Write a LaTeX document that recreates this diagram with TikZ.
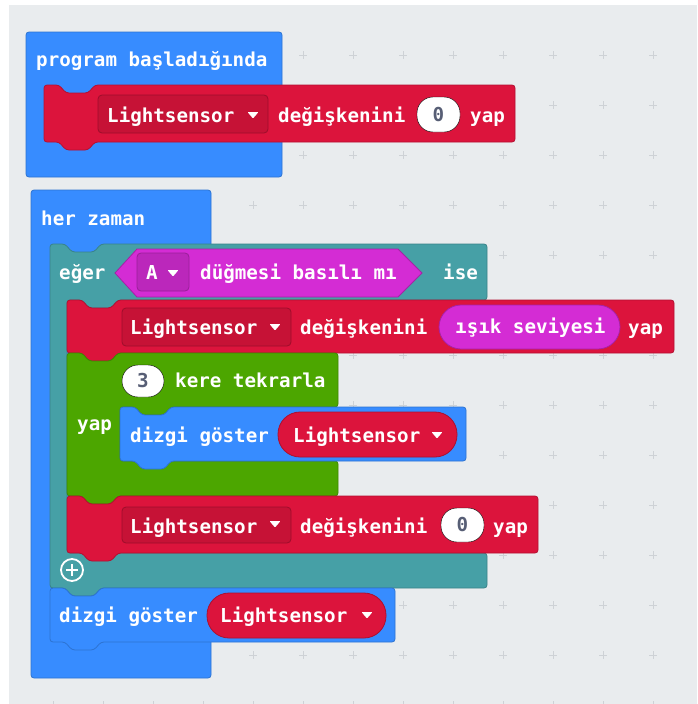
\documentclass[tikz,border=0pt]{standalone}
\usepackage{fontspec}
\newfontfamily\blockfont{DejaVu Sans Mono}
\usetikzlibrary{positioning}

\definecolor{bgGray}{RGB}{233,236,238}
\definecolor{gridGray}{RGB}{206,210,214}
\definecolor{basicBlue}{RGB}{55,140,255}
\definecolor{varRed}{RGB}{220,20,60}
\definecolor{logicTeal}{RGB}{70,160,166}
\definecolor{inputPink}{RGB}{212,44,212}
\definecolor{loopGreen}{RGB}{76,166,0}
\definecolor{numGray}{RGB}{87,94,117}

\newcommand{\bfont}{\blockfont\bfseries\fontsize{19.2}{22}\selectfont}

% statement block outline: left, top, right, bottom
\newcommand{\stmtpath}[4]{(#1,#2) -- ++(15,0) -- ++(7,8) -- ++(22,0) -- ++(7,-8) -- (#3,#2) -- (#3,#4) -- (#1+51,#4) -- ++(-7,8) -- ++(-22,0) -- ++(-7,-8) -- (#1,#4) -- cycle}

\tikzset{
  blk/.style={rounded corners=3pt, line width=0.8pt},
  blue blk/.style={blk, fill=basicBlue, draw=basicBlue!82!black},
  red blk/.style={blk, fill=varRed, draw=varRed!82!black},
  teal blk/.style={blk, fill=logicTeal, draw=logicTeal!82!black},
  green blk/.style={blk, fill=loopGreen, draw=loopGreen!82!black},
  dropbox/.style={rounded corners=4pt, line width=0.8pt, fill=varRed!90!black, draw=varRed!72!black},
  pinkbox/.style={rounded corners=4pt, line width=0.8pt, fill=inputPink!88!black, draw=inputPink!72!black},
  numoval/.style={fill=white, rounded corners=16pt},
  redpill/.style={fill=varRed, draw=varRed!78!black, line width=0.8pt, rounded corners=22pt},
  pinkpill/.style={fill=inputPink, draw=inputPink!78!black, line width=0.8pt, rounded corners=22pt},
  lbl/.style={text=white, font=\bfont, inner sep=0pt, anchor=base west},
  num/.style={text=numGray, font=\bfont, inner sep=0pt, anchor=center},
  gridmark/.style={draw=gridGray, line width=0.9pt},
  ddarrow/.pic={\fill[white, rounded corners=0.8pt] (-5.5,-3) -- (5.5,-3) -- (0,3.5) -- cycle;}
}

\begin{document}
\begin{tikzpicture}[x=1pt, y=-1pt]
    \useasboundingbox (0,0) rectangle (697,704);
    % Workspace
    \fill[white] (0,0) rectangle (697,704);
    \fill[bgGray] (9,5) rectangle (697,704);
    \begin{scope}
      \clip (9,5) rectangle (697,704);
      \foreach \gx in {53,103,...,653}
        \foreach \gy in {55,105,...,705}
          \draw[gridmark] (\gx-4,\gy) -- (\gx+4,\gy) (\gx,\gy-4) -- (\gx,\gy+4);
    \end{scope}

    % program başladığında
    \draw[blue blk] (26,32) rectangle (282,177);
    \draw[red blk] \stmtpath{44}{85}{515}{142};
    \draw[dropbox] (98,95) rectangle (268,133);
    \draw[numoval] (417,97) rectangle (460,132);
    \node[lbl] (start) at (36,66) {program başladığında};
    \node[lbl] (var1) at (107,122) {Lightsensor};
    \pic at (253,115) {ddarrow};
    \node[lbl] (set1) at (278,122) {değişkenini};
    \node[num] (zero1) at (438.5,114.5) {0};
    \node[lbl] (yap1) at (470,122) {yap};

    % her zaman
    \draw[blue blk] (31,190) rectangle (211,678);
    \node[lbl] (forever) at (41,225) {her zaman};

    % eğer ... ise
    \draw[teal blk] (50,244) -- ++(15,0) -- ++(7,8) -- ++(22,0) -- ++(7,-8) -- (487,244) -- (487,300)
      -- (118,300) -- ++(-7,8) -- ++(-22,0) -- ++(-7,-8) -- (67,300) -- (67,553) -- (487,553) -- (487,588)
      -- (101,588) -- ++(-7,8) -- ++(-22,0) -- ++(-7,-8) -- (50,588) -- cycle;
    \draw[fill=inputPink, draw=inputPink!78!black, line width=0.8pt]
      (115,273) -- (137,249) -- (398,249) -- (422,273) -- (398,297) -- (137,297) -- cycle;
    \draw[pinkbox] (137,253) rectangle (189,291);
    \node[lbl] (ifword) at (59,279) {eğer};
    \node[lbl] (btn) at (146,279) {A};
    \pic at (173,273) {ddarrow};
    \node[lbl] (pressed) at (200,279) {düğmesi basılı mı};
    \node[lbl] (then) at (443,279) {ise};
    \draw[white, line width=1.8pt] (72,570) circle (11);
    \draw[white, line width=2.4pt] (66,570) -- (78,570) (72,564) -- (72,576);

    % Lightsensor = ışık seviyesi
    \draw[red blk] \stmtpath{67}{300}{674}{353};
    \draw[dropbox] (122,308) rectangle (291,346);
    \draw[pinkpill] (439,305) rectangle (620,349);
    \node[lbl] (var2) at (130,334) {Lightsensor};
    \pic at (275,327) {ddarrow};
    \node[lbl] (set2) at (300,334) {değişkenini};
    \node[lbl] (light) at (455,333) {ışık seviyesi};
    \node[lbl] (yap2) at (628,334) {yap};

    % 3 kere tekrarla
    \draw[green blk] (67,353) -- ++(15,0) -- ++(7,8) -- ++(22,0) -- ++(7,-8) -- (338,353) -- (338,407)
      -- (171,407) -- ++(-7,8) -- ++(-22,0) -- ++(-7,-8) -- (120,407) -- (120,461) -- (338,461) -- (338,496)
      -- (118,496) -- ++(-7,8) -- ++(-22,0) -- ++(-7,-8) -- (67,496) -- cycle;
    \draw[numoval] (122,365) rectangle (164,397);
    \node[num] (three) at (143,381) {3};
    \node[lbl] (times) at (175,387) {kere tekrarla};
    \node[lbl] (doword) at (77,430) {yap};
    \draw[blue blk] \stmtpath{120}{407}{466}{461};
    \draw[redpill] (278,412) rectangle (457,457);
    \node[lbl] (show1) at (130,442) {dizgi göster};
    \node[lbl] (var3) at (293,442) {Lightsensor};
    \pic at (437,435) {ddarrow};

    % Lightsensor = 0
    \draw[red blk] \stmtpath{67}{496}{538}{553};
    \draw[dropbox] (122,507) rectangle (291,543);
    \draw[numoval] (441,508) rectangle (484,542);
    \node[lbl] (var4) at (130,533) {Lightsensor};
    \pic at (275,524) {ddarrow};
    \node[lbl] (set4) at (300,533) {değişkenini};
    \node[num] (zero2) at (462.5,525) {0};
    \node[lbl] (yap4) at (493,533) {yap};

    % dizgi göster
    \draw[blue blk] \stmtpath{50}{588}{395}{642};
    \draw[redpill] (207,593) rectangle (386,638);
    \node[lbl] (show2) at (59,622) {dizgi göster};
    \node[lbl] (var5) at (220,622) {Lightsensor};
    \pic at (367,615) {ddarrow};
\end{tikzpicture}
\end{document}
